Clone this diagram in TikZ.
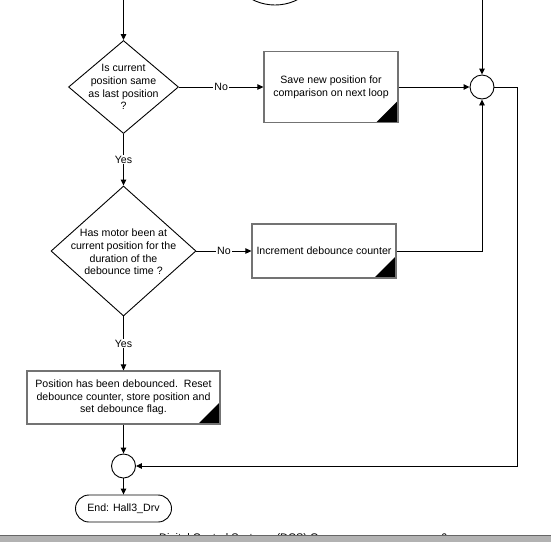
\documentclass[tikz,border=0pt]{standalone}
\usepackage{fontspec}
\setmainfont{Liberation Sans}
\usetikzlibrary{shapes.geometric,arrows.meta}
\begin{document}
\begin{tikzpicture}[x=1pt,y=-1pt,
  font=\fontsize{10.6}{12.7}\selectfont,
  conn/.style={line width=0.9pt, -{Triangle[length=6pt,width=5.5pt]}},
  dec/.style={draw, diamond, line width=0.9pt, inner sep=0pt, fill=white},
  dtext/.style={align=center, inner sep=0pt},
  proc/.style={draw=black!55, line width=1.2pt, fill=white, align=center, inner sep=0pt,
    path picture={\fill[black] (path picture bounding box.south east) -- ++(-22pt,0pt) -- ++(22pt,22pt) -- cycle;}},
  junc/.style={draw, circle, line width=0.9pt, minimum size=24pt, inner sep=0pt, fill=white},
  term/.style={draw, rectangle, rounded corners=13.5pt, line width=0.9pt, minimum width=96pt, minimum height=27pt, inner sep=0pt},
  lab/.style={fill=white, inner sep=1pt}
]
\useasboundingbox (0,0) rectangle (551,542);
\clip (0,0) rectangle (551,542);

% partially visible shape at top
\node[draw, circle, line width=0.9pt, minimum size=100pt, inner sep=0pt] (top) at (275,-45) {};
\coordinate (tl) at (123.5,0);
\coordinate (tr) at (482,0);
\coordinate (rx) at (517,0);

% decisions
\node[dec, minimum width=110pt, minimum height=93pt] (d1) at (123.5,87) {};
\node[dtext] (d1t) at (123.5,87) {Is current\\position same\\as last position\\?};
\node[dec, minimum width=145pt, minimum height=130pt] (d2) at (123.5,251) {};
\node[dtext] (d2t) at (123.5,252) {Has motor been at\\current position for the\\duration of the\\debounce time ?};

% processes
\node[proc, minimum width=134pt, minimum height=71pt] (b1) at (331,87) {Save new position for\\comparison on next loop};
\node[proc, minimum width=144pt, minimum height=54pt] (b2) at (324,251) {Increment debounce counter};
\node[proc, minimum width=193pt, minimum height=53pt] (b3) at (123.5,397.5) {Position has been debounced.\ \ Reset\\debounce counter, store position and\\set debounce flag.};

% junctions
\node[junc] (c1) at (482,87) {};
\node[junc] (c2) at (123.5,466) {};

% terminal
\node[term] (t) at (123.5,508.5) {End: Hall3\_Drv};

% connectors
\draw[conn] (tl) -- (d1.north);
\draw[conn] (d1.east) -- node[lab] (no1) {No} (b1.west);
\draw[conn] (b1.east) -- (c1.west);
\draw[conn] (tr) -- (c1.north);
\draw[conn] (c1.east) -- (c1.east -| rx) -- (rx |- c2.east) -- (c2.east);
\draw[conn] (d1.south) -- node[lab] (yes1) {Yes} (d2.north);
\draw[conn] (d2.east) -- node[lab] (no2) {No} (b2.west);
\draw[conn] (b2.east) -| (c1.south);
\draw[conn] (d2.south) -- node[lab] (yes2) {Yes} (b3.north);
\draw[conn] (b3.south) -- (c2.north);
\draw[conn] (c2.south) -- (t.north);

% page footer (cut off)
\begin{scope}
\clip (0,0) rectangle (551,535);
\node[anchor=base west, inner sep=0pt, font=\fontsize{11}{13}\selectfont] (foot) at (159,541.5) {Digital Control Systems (DCS) Group};
\node[anchor=base west, inner sep=0pt, font=\fontsize{11}{13}\selectfont] (pg) at (441,541.5) {6};
\end{scope}
\fill[black!30] (0,535) rectangle (551,542);
\draw[black!60, line width=1pt] (0,535.5) -- (551,535.5);
\end{tikzpicture}
\end{document}
